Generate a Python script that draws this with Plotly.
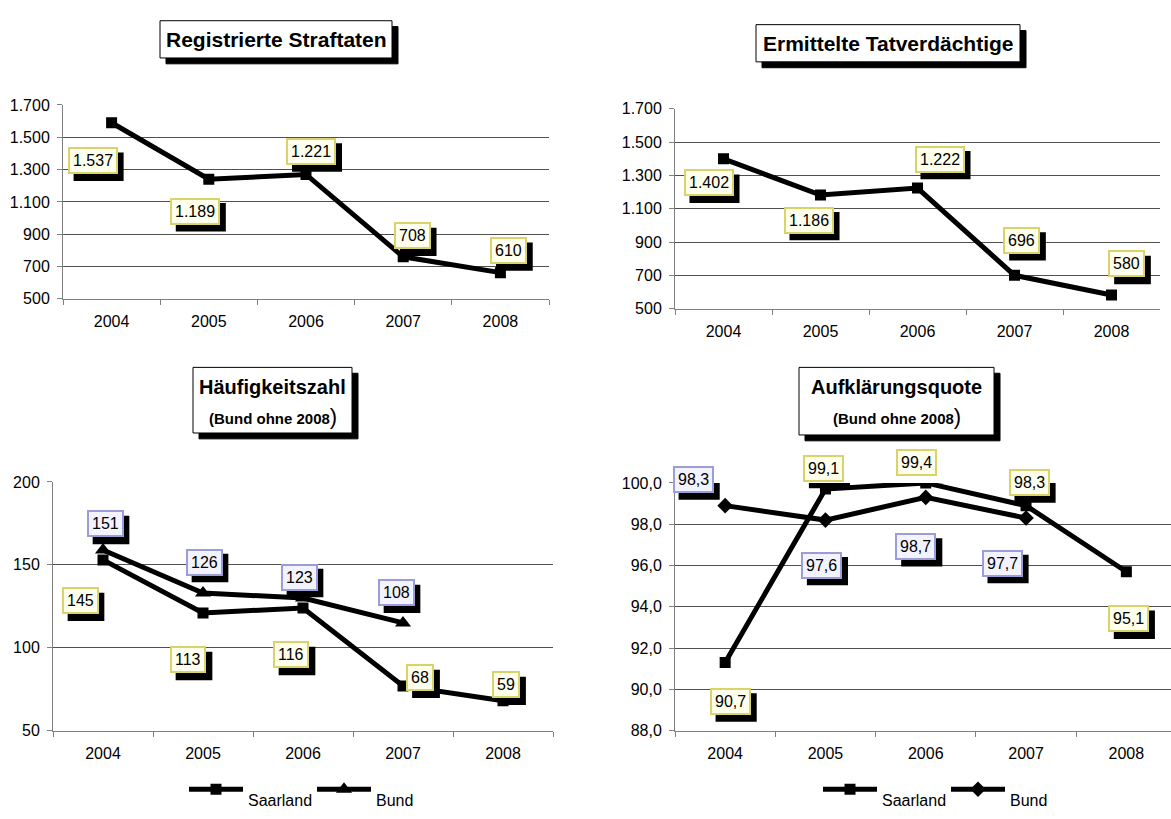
import plotly.graph_objects as go

years = ["2004", "2005", "2006", "2007", "2008"]

# Registrierte Straftaten (plotted line values and printed label texts)
straftaten = [1590, 1240, 1270, 760, 662]
straftaten_labels = ["1.537", "1.189", "1.221", "708", "610"]

# Ermittelte Tatverdächtige
tatverdaechtige = [1400, 1182, 1224, 700, 582]
tatverdaechtige_labels = ["1.402", "1.186", "1.222", "696", "580"]

# Häufigkeitszahl (Bund ohne 2008)
hz_saarland = [153, 121, 124, 77, 68]
hz_saarland_labels = ["145", "113", "116", "68", "59"]
hz_bund = [159, 133, 130, 115]
hz_bund_labels = ["151", "126", "123", "108"]

# Aufklärungsquote (Bund ohne 2008)
aq_saarland = [91.3, 99.7, 100.0, 98.9, 95.7]
aq_saarland_labels = ["90,7", "99,1", "99,4", "98,3", "95,1"]
aq_bund = [98.9, 98.2, 99.3, 98.3]
aq_bund_labels = ["98,3", "97,6", "98,7", "97,7"]

# label offsets in pixels (dx right, dy down) relative to the point
off_straftaten = [(-19, 38), (-14, 32), (5, -23), (9, -21), (8, -22)]
off_tatverd = [(-15, 24), (-12, 25), (22, -29), (7, -35), (15, -31)]
off_hz_saar = [(-23, 41), (-15, 47), (-12, 47), (17, -8), (3, -16)]
off_hz_bund = [(2, -26), (1, -31), (-4, -21), (-7, -30)]
off_aq_saar = [(5, 39), (-2, -21), (-9, -20), (3, -23), (2, 47)]
off_aq_bund = [(-32, -26), (-4, 45), (-10, 49), (-24, 45)]

W, H = 1171, 819
FONT = "Liberation Sans, Arial, sans-serif"
LABEL_SIZE = 16
PAD, BORDER = 3, 2
SHADOW = 6


def px_x(p):
    return p / W


def px_y(p):
    return 1 - p / H


fig = go.Figure()


def add_line(y, xa, ya, name, symbol, legend=None, size=11):
    fig.add_trace(go.Scatter(
        x=years[:len(y)], y=y, xaxis=xa, yaxis=ya, name=name,
        mode="lines+markers",
        line=dict(color="black", width=5),
        marker=dict(symbol=symbol, size=size, color="black"),
        showlegend=legend is not None,
        legend=legend or "legend",
        hoverinfo="skip",
    ))


add_line(straftaten, "x", "y", "Saarland", "square")
add_line(tatverdaechtige, "x2", "y2", "Saarland", "square")
# legend names carry an empty first line so the text sits below the symbol
add_line(hz_saarland, "x3", "y3", "<br>Saarland", "square", legend="legend")
add_line(hz_bund, "x3", "y3", "<br>Bund", "triangle-up", legend="legend", size=14)
add_line(aq_saarland, "x4", "y4", "<br>Saarland", "square", legend="legend2")
add_line(aq_bund, "x4", "y4", "<br>Bund", "diamond", legend="legend2", size=12)

annotations = []
shapes = []
YELLOW = dict(bg="#FFFFEE", border="#D9D36A")
BLUE = dict(bg="#F3F3FF", border="#9C9CD8")


def text_width(txt):
    return sum(0.278 if c in ".," else 0.556 for c in txt) * LABEL_SIZE


def add_labels(values, labels, offsets, xa, ya, colors):
    for i, txt in enumerate(labels):
        dx, dy = offsets[i]
        w = text_width(txt) + 2 * (PAD + BORDER)
        h = LABEL_SIZE * 1.15 + 2 * (PAD + BORDER)
        cx, cy = dx + SHADOW, -dy - SHADOW
        # drop shadow behind the label box
        shapes.append(dict(type="rect", xref=xa, yref=ya, xsizemode="pixel", ysizemode="pixel",
                           xanchor=i, yanchor=values[i],
                           x0=cx - w / 2, x1=cx + w / 2, y0=cy - h / 2, y1=cy + h / 2,
                           fillcolor="black", line=dict(width=0)))
        annotations.append(dict(x=i, y=values[i], xref=xa, yref=ya, text=txt,
                                showarrow=False, borderpad=PAD, borderwidth=BORDER,
                                xshift=dx, yshift=-dy,
                                bgcolor=colors["bg"], bordercolor=colors["border"],
                                font=dict(family=FONT, size=LABEL_SIZE, color="black")))


add_labels(straftaten, straftaten_labels, off_straftaten, "x", "y", YELLOW)
add_labels(tatverdaechtige, tatverdaechtige_labels, off_tatverd, "x2", "y2", YELLOW)
add_labels(hz_saarland, hz_saarland_labels, off_hz_saar, "x3", "y3", YELLOW)
add_labels(hz_bund, hz_bund_labels, off_hz_bund, "x3", "y3", BLUE)
add_labels(aq_saarland, aq_saarland_labels, off_aq_saar, "x4", "y4", YELLOW)
add_labels(aq_bund, aq_bund_labels, off_aq_bund, "x4", "y4", BLUE)


def title_box(x0, y0, x1, y1, lines):
    shapes.append(dict(type="rect", xref="paper", yref="paper",
                       x0=px_x(x0 + SHADOW), x1=px_x(x1 + SHADOW),
                       y0=px_y(y1 + SHADOW), y1=px_y(y0 + SHADOW),
                       fillcolor="black", line=dict(color="black", width=1)))
    shapes.append(dict(type="rect", xref="paper", yref="paper",
                       x0=px_x(x0), x1=px_x(x1), y0=px_y(y1), y1=px_y(y0),
                       fillcolor="white", line=dict(color="black", width=1)))
    for text, yc, size in lines:
        annotations.append(dict(x=px_x((x0 + x1) / 2), y=px_y(yc), xref="paper", yref="paper",
                                text=text, showarrow=False, xanchor="center", yanchor="middle",
                                font=dict(family=FONT, size=size, color="black")))


title_box(160, 13, 392, 51, [("<b>Registrierte Straftaten</b>", 32, 21)])
title_box(756, 17, 1020, 55, [("<b>Ermittelte Tatverdächtige</b>", 36, 21)])
sub = "<b>(Bund ohne 2008</b><span style='font-size:22px'>)</span>"
title_box(193, 367, 352, 434, [("<b>Häufigkeitszahl</b>", 387, 20), (sub, 417, 15)])
title_box(799, 367, 994, 436, [("<b>Aufklärungsquote</b>", 387, 20), (sub, 417, 15)])


def xaxis(x0, x1, rng=(-0.5, 4.5)):
    return dict(domain=[px_x(x0), px_x(x1)], type="category", range=list(rng),
                showline=True, linecolor="#808080", linewidth=1, ticks="outside",
                tickson="boundaries", ticklen=5, tickcolor="#808080", showgrid=False,
                tickfont=dict(family=FONT, size=16, color="black"),
                ticklabelstandoff=8, fixedrange=True)


def yaxis(y_top, y_bot, rng, dtick, anchor, **kw):
    return dict(domain=[px_y(y_bot), px_y(y_top)], range=list(rng), dtick=dtick,
                tick0=rng[0], anchor=anchor, showline=True, linecolor="#808080",
                linewidth=1, ticks="outside", ticklen=5, tickcolor="#808080",
                showgrid=True, gridcolor="#505050", gridwidth=1, zeroline=False,
                tickfont=dict(family=FONT, size=16, color="black"),
                ticklabelstandoff=4, fixedrange=True, **kw)


aq_px = 100.3
legend_style = dict(orientation="h", xanchor="left", yanchor="middle", valign="middle",
                    font=dict(family=FONT, size=16, color="black"), bgcolor="rgba(0,0,0,0)",
                    itemwidth=54, entrywidth=59, entrywidthmode="pixels", itemclick=False)
fig.update_layout(
    width=W, height=H,
    margin=dict(l=0, r=0, t=0, b=0),
    paper_bgcolor="white", plot_bgcolor="white",
    separators=",.",
    xaxis=dict(xaxis(63, 549), anchor="y"),
    yaxis=yaxis(99, 297, (500, 1700), 200, "x", separatethousands=True),
    xaxis2=dict(xaxis(675, 1160), anchor="y2"),
    yaxis2=yaxis(103, 307, (500, 1700), 200, "x2", separatethousands=True),
    xaxis3=dict(xaxis(53, 553), anchor="y3"),
    yaxis3=yaxis(484, 738, (50, 200), 50, "x3"),
    xaxis4=dict(xaxis(675, 1171, (-0.5, -0.5 + (1171 - 675) / aq_px)), anchor="y4"),
    yaxis4=yaxis(485, 738, (88, 100), 2, "x4", tickformat=".1f"),
    legend=dict(legend_style, x=px_x(184), y=px_y(798)),
    legend2=dict(legend_style, x=px_x(818), y=px_y(798)),
    shapes=shapes,
    annotations=annotations,
    showlegend=True,
)

fig.write_html("out.html", config={"displayModeBar": False},
               post_script="document.body.style.margin='0';")
